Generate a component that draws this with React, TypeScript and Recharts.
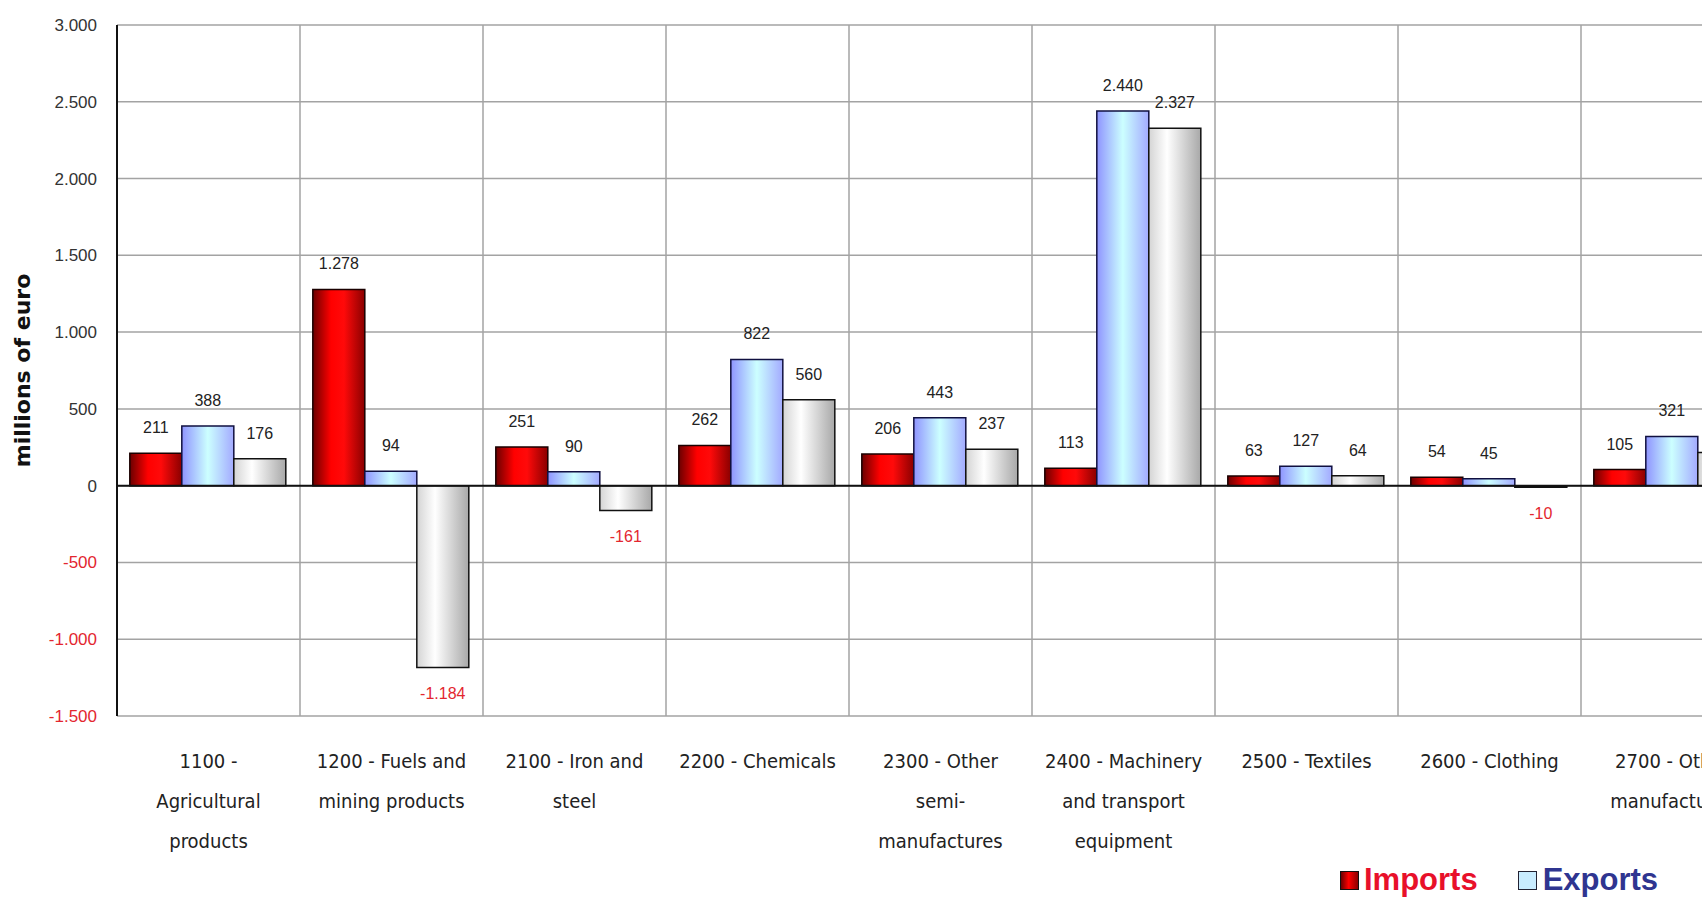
import React from "react";
import {
  BarChart,
  Bar,
  XAxis,
  YAxis,
  CartesianGrid,
  ReferenceLine,
  LabelList,
} from "recharts";

const categories = [
  "1100 - Agricultural products",
  "1200 - Fuels and mining products",
  "2100 - Iron and steel",
  "2200 - Chemicals",
  "2300 - Other semi-manufactures",
  "2400 - Machinery and transport equipment",
  "2500 - Textiles",
  "2600 - Clothing",
  "2700 - Other manufactures",
];
const importValues = [211, 1278, 251, 262, 206, 113, 63, 54, 105];
const exportValues = [388, 94, 90, 822, 443, 2440, 127, 45, 321];
const balanceValues = [176, -1184, -161, 560, 237, 2327, 64, -10, 216];
const yTicks = [-1500, -1000, -500, 0, 500, 1000, 1500, 2000, 2500, 3000];

const data = categories.map((name, i) => ({
  name,
  imports: importValues[i],
  exports: exportValues[i],
  balance: balanceValues[i],
}));

const RED = "#e3262f";
const ARIAL = "'Liberation Sans', Arial, sans-serif";
const TAHOMA = "'DejaVu Sans Condensed', 'DejaVu Sans', sans-serif";

function fmt(v: number): string {
  const s = Math.abs(v)
    .toString()
    .replace(/\B(?=(\d{3})+(?!\d))/g, ".");
  return v < 0 ? "-" + s : s;
}

// greedy wrap, also allows a break after a hyphen inside a word
function wrapLabel(text: string, maxChars: number): string[] {
  const tokens: { t: string; space: boolean }[] = [];
  text.split(" ").forEach((word, wi) => {
    const parts = word.length > 1 && word.includes("-") ? word.split(/(?<=-)/) : [word];
    parts.forEach((p, pi) => tokens.push({ t: p, space: wi > 0 && pi === 0 }));
  });
  const lines: string[] = [];
  let cur = "";
  tokens.forEach(({ t, space }) => {
    const next = cur === "" ? t : cur + (space ? " " : "") + t;
    if (cur !== "" && next.length > maxChars) {
      lines.push(cur);
      cur = t;
    } else {
      cur = next;
    }
  });
  if (cur) lines.push(cur);
  return lines;
}

// vertical grid lines sit on the category boundaries, not on the ticks
const boundaryLines = ({ offset }: any) =>
  Array.from({ length: categories.length + 1 }, (_, i) => offset.left + (i * offset.width) / categories.length);

const CategoryTick = (props: any) => {
  const { x, y, payload } = props;
  const lines = wrapLabel(String(payload.value), 16);
  return (
    <text
      x={x}
      y={y + 46}
      textAnchor="middle"
      fontFamily={TAHOMA}
      fontStretch="condensed"
      fontSize={20}
      fill="#222"
    >
      {lines.map((l, i) => (
        <tspan key={i} x={x} dy={i === 0 ? 0 : 40}>
          {l}
        </tspan>
      ))}
    </text>
  );
};

const ValueTick = (props: any) => {
  const { x, y, payload } = props;
  return (
    <text
      x={x}
      y={y}
      dy={6}
      textAnchor="end"
      fontFamily={ARIAL}
      fontSize={17}
      fill={payload.value < 0 ? RED : "#333"}
    >
      {fmt(payload.value)}
    </text>
  );
};

const ValueLabel = (props: any) => {
  const vb = props.viewBox ?? {};
  const x = props.x ?? vb.x;
  const y = props.y ?? vb.y;
  const width = props.width ?? vb.width;
  const height = props.height ?? vb.height;
  const value = Number(props.value);
  const top = Math.min(y, y + height);
  const bottom = Math.max(y, y + height);
  const neg = value < 0;
  return (
    <text
      x={x + width / 2}
      y={neg ? bottom + 32 : top - 20}
      textAnchor="middle"
      fontFamily={ARIAL}
      fontSize={16}
      fill={neg ? RED : "#222"}
    >
      {fmt(value)}
    </text>
  );
};

const AxisTitle = (props: any) => {
  const vb = props.viewBox;
  const cx = vb.x - 25;
  const cy = vb.y + vb.height / 2;
  return (
    <text
      x={cx}
      y={cy}
      transform={`rotate(-90 ${cx} ${cy})`}
      textAnchor="middle"
      dominantBaseline="central"
      fontFamily="'DejaVu Sans', Verdana, sans-serif"
      fontWeight="bold"
      fontSize={22}
      fill="#111"
    >
      millions of euro
    </text>
  );
};

export default function App() {
  return (
    <div
      style={{
        position: "fixed",
        left: 0,
        top: 0,
        width: "100vw",
        height: "100vh",
        overflow: "hidden",
        background: "#fff",
      }}
    >
      <BarChart
        width={1800}
        height={899}
        data={data}
        margin={{ top: 25, right: 36, bottom: 0, left: 47 }}
        barCategoryGap="7%"
        barGap={0}
      >
        <defs>
          <linearGradient id="gImports" x1="0" y1="0" x2="1" y2="0">
            <stop offset="0" stopColor="#6b0000" />
            <stop offset="0.35" stopColor="#ff0000" />
            <stop offset="0.6" stopColor="#ff0a0a" />
            <stop offset="1" stopColor="#8a0000" />
          </linearGradient>
          <linearGradient id="gExports" x1="0" y1="0" x2="1" y2="0">
            <stop offset="0" stopColor="#8f94ff" />
            <stop offset="0.5" stopColor="#ccffff" />
            <stop offset="1" stopColor="#a3aaff" />
          </linearGradient>
          <linearGradient id="gBalance" x1="0" y1="0" x2="1" y2="0">
            <stop offset="0" stopColor="#d4d4d4" />
            <stop offset="0.35" stopColor="#ffffff" />
            <stop offset="1" stopColor="#a8a8a8" />
          </linearGradient>
        </defs>
        <CartesianGrid
          stroke="#a3a3a3"
          strokeWidth={1.5}
          verticalCoordinatesGenerator={boundaryLines}
        />
        <XAxis
          dataKey="name"
          interval={0}
          axisLine={false}
          tickLine={false}
          tickMargin={0}
          height={183}
          tick={<CategoryTick />}
        />
        <YAxis
          width={70}
          domain={[-1500, 3000]}
          ticks={yTicks}
          interval={0}
          tickLine={false}
          tickMargin={14}
          axisLine={{ stroke: "#111", strokeWidth: 2 }}
          tick={<ValueTick />}
          label={<AxisTitle />}
        />
        <Bar dataKey="imports" fill="url(#gImports)" stroke="#1a0000" strokeWidth={1.5} isAnimationActive={false}>
          <LabelList dataKey="imports" content={<ValueLabel />} />
        </Bar>
        <Bar dataKey="exports" fill="url(#gExports)" stroke="#101040" strokeWidth={1.5} isAnimationActive={false}>
          <LabelList dataKey="exports" content={<ValueLabel />} />
        </Bar>
        <Bar dataKey="balance" fill="url(#gBalance)" stroke="#111" strokeWidth={1.5} isAnimationActive={false}>
          <LabelList dataKey="balance" content={<ValueLabel />} />
        </Bar>
        <ReferenceLine y={0} stroke="#111" strokeWidth={2} />
      </BarChart>

      <div
        style={{
          position: "absolute",
          left: 1340,
          top: 863,
          display: "flex",
          alignItems: "center",
          fontFamily: ARIAL,
          fontWeight: "bold",
          fontSize: 31,
          lineHeight: "34px",
        }}
      >
        <span
          style={{
            width: 17,
            height: 17,
            border: "1.5px solid #111",
            background: "linear-gradient(to right, #6b0000, #ff0000 45%, #8a0000)",
            marginRight: 5,
          }}
        />
        <span style={{ color: "#e8102a", marginRight: 40 }}>Imports</span>
        <span
          style={{
            width: 17,
            height: 17,
            border: "1.5px solid #223",
            background: "#c8ecff",
            marginRight: 6,
          }}
        />
        <span style={{ color: "#2f3590" }}>Exports</span>
      </div>
    </div>
  );
}
